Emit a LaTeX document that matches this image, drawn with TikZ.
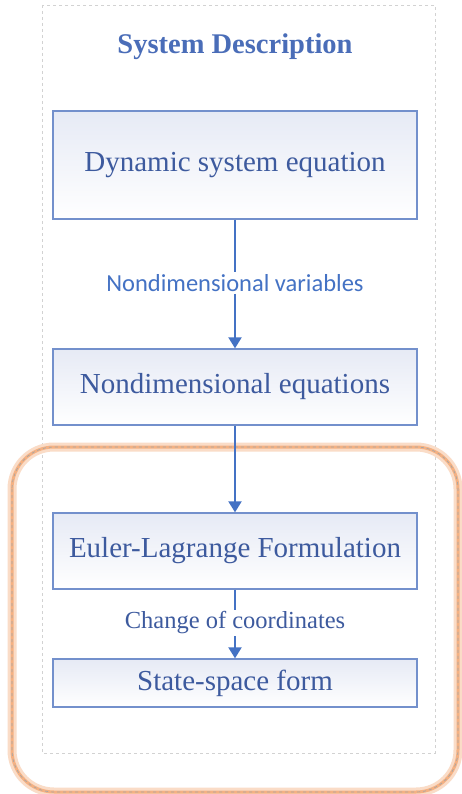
\documentclass[tikz,border=0pt]{standalone}
\usepackage{fontspec}
\setmainfont{Liberation Serif}
\newfontfamily\lblfont{Carlito}
\usetikzlibrary{arrows.meta,shadings}
\definecolor{txtblue}{HTML}{3D5A9E}
\definecolor{ttlblue}{HTML}{4A6DB8}
\definecolor{lnblue}{HTML}{4472C4}
\definecolor{bdblue}{HTML}{7390CC}
\definecolor{boxfill}{HTML}{E6EAF5}
\definecolor{glow}{HTML}{F4B183}
\tikzset{
  x=1pt,y=-1pt,
  stepbox/.style={draw=bdblue,line width=1.3pt,minimum width=364pt,inner sep=0pt,
    left color=boxfill,right color=white,shading angle=0,
    text=txtblue,font=\fontsize{29}{32}\selectfont},
  conn/.style={draw=lnblue,line width=2pt},
  arr/.style={conn,-{Triangle[width=13pt,length=11pt]}},
  lbl/.style={inner sep=2pt,text=lnblue},
}
\begin{document}
\begin{tikzpicture}
\useasboundingbox (0,0) rectangle (462,794);
\fill[white] (0,0) rectangle (462,794);
% outer light dashed frame
\draw[gray!35,dashed,line width=0.6pt] (42,5) rectangle (435,753);
% orange highlight
\draw[glow!45,line width=9pt,rounded corners=42pt] (12,447) rectangle (458,792);
\draw[glow,line width=3pt,rounded corners=42pt] (12,447) rectangle (458,792);
\draw[gray!70,dashed,line width=0.7pt,rounded corners=42pt] (12,447) rectangle (458,792);
% title
\node[text=ttlblue,font=\bfseries\fontsize{28.5}{32}\selectfont] (title) at (235,47) {System Description};
% boxes
\node[stepbox,minimum height=108pt] (b1) at (235,165) {Dynamic system equation};
\node[stepbox,minimum height=76pt] (b2) at (235,387) {Nondimensional equations};
\node[stepbox,minimum height=76pt] (b3) at (235,551) {Euler-Lagrange Formulation};
\node[stepbox,minimum height=48pt] (b4) at (235,683) {State-space form};
% labels
\node[lbl,font=\lblfont\fontsize{24.5}{28}\selectfont] (l1) at (235,283) {Nondimensional variables};
\node[lbl,text=txtblue,font=\fontsize{24.5}{28}\selectfont] (l2) at (235,623) {Change of coordinates};
% connectors
\draw[conn] (b1.south) -- (l1.north);
\draw[arr] (l1.south) -- (b2.north);
\draw[arr] (b2.south) -- (b3.north);
\draw[conn] (b3.south) -- (l2.north);
\draw[arr] (l2.south) -- (b4.north);
\end{tikzpicture}
\end{document}
